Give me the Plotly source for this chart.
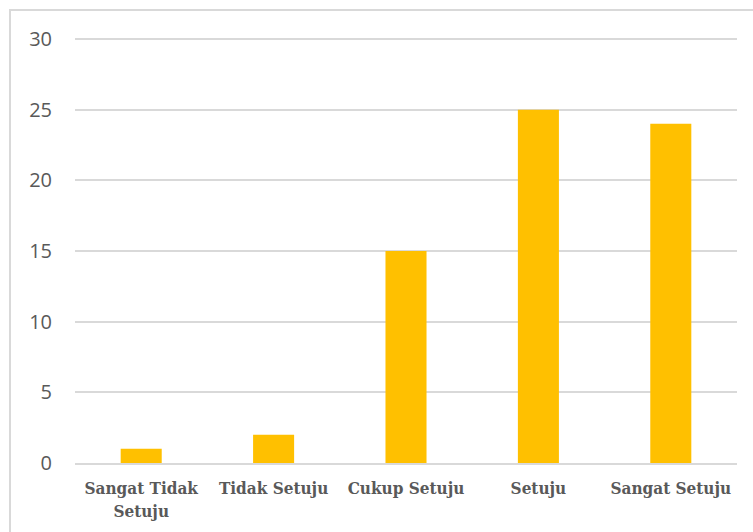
import plotly.graph_objects as go

# Survey response counts per answer category
categories = ["Sangat Tidak<br>Setuju", "Tidak Setuju", "Cukup Setuju", "Setuju", "Sangat Setuju"]
counts = [1, 2, 15, 25, 24]
y_ticks = [0, 5, 10, 15, 20, 25, 30]

fig = go.Figure(
    go.Bar(
        x=categories,
        y=counts,
        marker=dict(color="#FFC000", line=dict(width=0)),
        hoverinfo="x+y",
    )
)

# a little headroom above 30 keeps the top gridline visible
fig.update_layout(
    width=753,
    height=532,
    margin=dict(l=75, r=16, t=32, b=69),
    paper_bgcolor="white",
    plot_bgcolor="white",
    bargap=0.69,
    showlegend=False,
    xaxis=dict(
        showgrid=False,
        showline=True,
        linecolor="#d9d9d9",
        linewidth=2,
        ticks="",
        ticklabelstandoff=9,
        tickfont=dict(family="DejaVu Serif Condensed, DejaVu Serif", size=17,
                      color="#595959", weight="bold"),
    ),
    yaxis=dict(
        range=[0, 30.5],
        tickvals=y_ticks,
        showgrid=True,
        gridcolor="#d9d9d9",
        gridwidth=1.5,
        zeroline=False,
        showline=False,
        ticks="",
        ticklabelstandoff=22,
        tickfont=dict(family="Open Sans", size=20, color="#595959"),
    ),
    shapes=[
        dict(
            type="rect",
            xref="paper",
            yref="paper",
            x0=-0.0982,
            x1=1.2,
            y0=-0.3,
            y1=1.051,
            line=dict(color="#d9d9d9", width=2),
            fillcolor="rgba(0,0,0,0)",
            layer="below",
        )
    ],
)

fig.write_html("out.html")
